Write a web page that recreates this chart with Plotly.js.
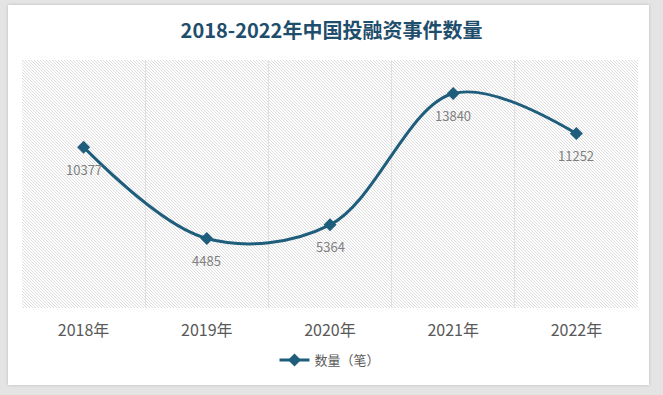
<!DOCTYPE html>
<html>
<head>
<meta charset="utf-8">
<script src="https://cdn.plot.ly/plotly-3.0.1.min.js"></script>
<style>
  html, body { margin: 0; padding: 0; background: #e4e4e4; }
  #wrap { position: relative; width: 663px; height: 395px; overflow: hidden; }
  #card { position: absolute; left: 8px; top: 5px; width: 641px; height: 380px; background: #ffffff;
          box-shadow: 0 0 3px rgba(0,0,0,0.18); }
  #hatch { position: absolute; left: 22px; top: 60px; width: 616px; height: 248px;
           background-image: url("data:image/svg+xml,%3Csvg xmlns='http://www.w3.org/2000/svg' width='3' height='3' shape-rendering='crispEdges'%3E%3Crect x='0' y='0' width='1' height='1' fill='%23dcdcdc'/%3E%3Crect x='1' y='1' width='1' height='1' fill='%23dcdcdc'/%3E%3Crect x='2' y='2' width='1' height='1' fill='%23dcdcdc'/%3E%3C/svg%3E");
           background-repeat: repeat; image-rendering: pixelated; }
  #chart { position: absolute; left: 0; top: 0; width: 663px; height: 395px; }
</style>
</head>
<body>
<div id="wrap">
  <div id="card"></div>
  <div id="hatch"></div>
  <div id="chart"></div>
</div>
<script>
const categories = ["2018年", "2019年", "2020年", "2021年", "2022年"];
const counts = [10377, 4485, 5364, 13840, 11252];
const seriesName = "数量（笔）";
const chartTitle = "2018-2022年中国投融资事件数量";

const idx = categories.map((_, i) => i);
const boundaries = categories.slice(1).map((_, i) => i + 0.5);

const lineColor = "#1f5d7d";
const cjk = "'Noto Sans CJK SC', 'Noto Sans', sans-serif";

const traces = [{
  type: "scatter",
  mode: "lines+markers",
  x: idx,
  y: counts,
  name: seriesName,
  line: { color: lineColor, width: 3, shape: "spline", smoothing: 1 },
  marker: { symbol: "diamond", size: 10, color: lineColor },
  cliponaxis: false,
  hoverinfo: "x+y"
}, {
  type: "scatter", mode: "markers", x: [0], y: [0], xaxis: "x2",
  marker: { opacity: 0 }, showlegend: false, hoverinfo: "skip"
}];

const labelAnnotations = counts.map((v, i) => ({
  x: idx[i], y: v, xref: "x", yref: "y",
  text: String(v), showarrow: false,
  yshift: -22, xanchor: "center", yanchor: "middle",
  font: { family: cjk, size: 13, color: "#7f7f7f" }
}));

const layout = {
  width: 663,
  height: 395,
  margin: { l: 22, r: 25, t: 60, b: 87 },
  paper_bgcolor: "rgba(0,0,0,0)",
  plot_bgcolor: "rgba(0,0,0,0)",
  title: {
    text: "<b>" + chartTitle + "</b>",
    font: { family: cjk, size: 20, color: "#1f4e6c" },
    x: 0.5, xref: "container", xanchor: "center",
    y: 1 - 31 / 395, yref: "container", yanchor: "middle"
  },
  showlegend: true,
  legend: {
    orientation: "h",
    x: 0.5, xanchor: "center",
    y: -0.21, yanchor: "middle",
    font: { family: cjk, size: 13, color: "#595959" },
    bgcolor: "rgba(0,0,0,0)"
  },
  annotations: labelAnnotations,
  xaxis: {
    range: [-0.5, 4.5],
    tickmode: "array",
    tickvals: idx,
    ticktext: categories,
    showgrid: false,
    zeroline: false,
    showline: false,
    ticks: "",
    tickfont: { family: cjk, size: 16, color: "#595959" },
    ticklabelstandoff: 11,
    fixedrange: true
  },
  xaxis2: {
    overlaying: "x",
    matches: "x",
    range: [-0.5, 4.5],
    tickmode: "array",
    tickvals: boundaries,
    showticklabels: false,
    showgrid: true,
    gridcolor: "#e0e0e0",
    gridwidth: 1,
    zeroline: false,
    showline: false,
    ticks: ""
  },
  yaxis: {
    range: [0, 16000],
    showgrid: false,
    zeroline: false,
    showline: false,
    showticklabels: false,
    ticks: "",
    fixedrange: true
  }
};

Plotly.newPlot("chart", traces, layout, { displayModeBar: false, staticPlot: true });
</script>
</body>
</html>
